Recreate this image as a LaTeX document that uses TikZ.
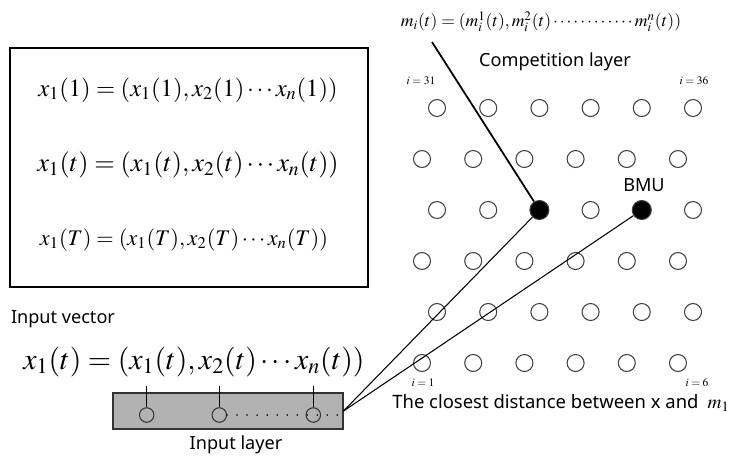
\documentclass[tikz,border=0pt]{standalone}
\usepackage{mathptmx}
\usepackage[no-math]{fontspec}
\setsansfont{Noto Sans}
\usetikzlibrary{positioning}

\begin{document}
\begin{tikzpicture}[
  x=0.02cm, y=-0.02cm,
  font=\sffamily,
  unitNode/.style={circle, draw=black!75, line width=0.6pt, inner sep=0pt},
  inputUnit/.style={circle, draw=black!80, line width=0.6pt, minimum size=0.29cm, inner sep=0pt},
  layerLabel/.style={font=\sffamily\fontsize{10.3}{12}\selectfont, inner sep=0pt},
  indexLabel/.style={font=\fontsize{6.5}{7}\selectfont, inner sep=0pt},
  eqFrame/.style={draw, line width=1.2pt, minimum width=7.16cm, minimum height=4.78cm, inner sep=0pt},
  eqText/.style={font=\fontsize{15}{17}\selectfont, inner sep=0pt},
  bigEq/.style={font=\fontsize{17}{19}\selectfont, inner sep=0pt},
  topEq/.style={font=\fontsize{10}{12}\selectfont, inner sep=0pt},
  inputLayerBox/.style={draw=black!80, fill=black!30, line width=0.6pt, minimum width=4.6cm, minimum height=0.72cm, inner sep=0pt},
  link/.style={line width=0.6pt},
  weightLink/.style={line width=1pt},
  dotLine/.style={line width=1pt, line cap=round, dash pattern=on 0pt off 5.7pt}
]
\useasboundingbox (0,0) rectangle (731,458);

% input vectors
\node[eqFrame] (vecFrame) at (189,167.5) {};
\node[eqText, font=\fontsize{14}{16}\selectfont] (eqFirst) at (188,90) {$x_1(1)=(x_1(1),x_2(1)\cdots x_n(1))$};
\node[eqText] (eqMid) at (188,165) {$x_1(t)=(x_1(t),x_2(t)\cdots x_n(t))$};
\node[eqText, font=\fontsize{12.7}{15}\selectfont] (eqLast) at (184,240) {$x_1(T)=(x_1(T),x_2(T)\cdots x_n(T))$};

\node[layerLabel] (inVecLabel) at (63,319) {Input vector};
\node[bigEq] (inVec) at (194,362) {$x_1(t)=(x_1(t),x_2(t)\cdots x_n(t))$};

% input layer
\node[inputLayerBox] (inLayer) at (228,411) {};
\node[inputUnit] (in1) at (146.7,415) {};
\node[inputUnit] (in2) at (219.3,415) {};
\node[inputUnit] (in3) at (313.3,415) {};
\coordinate (tickTop) at (0,386);
\foreach \k in {1,2,3}
  \draw[link] (in\k.north) -- (in\k |- tickTop);
\draw[dotLine, shorten >=2pt] (in2.east) -- (in2.east -| inLayer.east);
\node[layerLabel] (inLayerLabel) at (236,445) {Input layer};

% competition layer
\foreach \r in {1,...,6}
  \foreach \c in {1,...,6} {
    \pgfmathtruncatemacro{\idx}{(\r-1)*6+\c}
    \pgfmathsetmacro{\xx}{422+15*(1-mod(\r,2))+(\c-1)*51.2}
    \pgfmathsetmacro{\yy}{363-(\r-1)*51}
    \ifnum\idx=21 \def\ufill{black}\def\usize{0.38cm}\else
      \ifnum\idx=23 \def\ufill{black}\def\usize{0.38cm}\else
        \def\ufill{white}\def\usize{0.34cm}\fi\fi
    \node[unitNode, fill=\ufill, minimum size=\usize] (m\idx) at (\xx,\yy) {};
  }

\node[indexLabel] (idx31) at (421,81) {$i=31$};
\node[indexLabel] (idx36) at (694,81) {$i=36$};
\node[indexLabel] (idx1) at (423,383) {$i=1$};
\node[indexLabel] (idx6) at (697,383) {$i=6$};

\node[layerLabel] (compLabel) at (555,62) {Competition layer};
\node[layerLabel] (bmuLabel) at (644,185) {BMU};
\node[topEq] (weightEq) at (541,22) {$m_i(t)=(m_i^1(t),m_i^2(t)\cdots\cdots\cdots\cdots m_i^n(t))$};
\coordinate (wTip) at (432,42);
\draw[weightLink] (wTip) -- (m21);

\draw[link] (inLayer.east) -- (m21);
\draw[link] (inLayer.east) -- (m23);

\node[layerLabel, font=\sffamily\fontsize{10.5}{12}\selectfont, anchor=west] (distLabel) at (392,403) {The closest distance between x and {\rmfamily\fontsize{11}{13}\selectfont$\;m_1$}};
\end{tikzpicture}
\end{document}
